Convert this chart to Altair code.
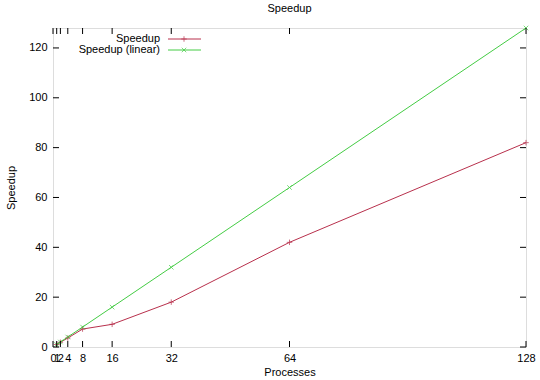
import altair as alt
import pandas as pd

processes = [1, 2, 4, 8, 16, 32, 64, 128]
speedup = [1, 1.9, 3.6, 7.2, 9.1, 18, 42, 82]
speedup_linear = [1, 2, 4, 8, 16, 32, 64, 128]
series = ["Speedup", "Speedup (linear)"]
colors = ["#b8304c", "#44cc44"]
x_ticks = [0, 1, 2, 4, 8, 16, 32, 64, 128]
y_ticks = [0, 20, 40, 60, 80, 100, 120]

W, H = 473, 319
FONT = "Liberation Sans"

df = pd.DataFrame({
    "p": processes * 2,
    "s": speedup + speedup_linear,
    "series": [series[0]] * len(processes) + [series[1]] * len(processes),
})

xs = alt.Scale(domain=[0, 128], nice=False, zero=False)
ys = alt.Scale(domain=[0, 128], nice=False, zero=False)
cs = alt.Scale(domain=series, range=colors)

plus = "M-1,0L1,0M0,-1L0,1"
cross = "M-1,-1L1,1M-1,1L1,-1"

base = alt.Chart(df)

lines = base.mark_line(strokeWidth=1).encode(
    x=alt.X("p:Q", scale=xs, axis=alt.Axis(values=x_ticks, ticks=False, domain=False, grid=False,
                                           labelOverlap=False, labelPadding=5, labelFont=FONT,
                                           labelFontSize=11, labelColor="black", title="Processes",
                                           titleFont=FONT, titleFontSize=11, titleFontWeight="normal",
                                           titlePadding=3, titleColor="black", labelFlush=False)),
    y=alt.Y("s:Q", scale=ys, axis=alt.Axis(values=y_ticks, ticks=False, domain=False, grid=False,
                                           labelPadding=6, labelFont=FONT, labelFontSize=11,
                                           labelColor="black", title="Speedup", titleFont=FONT,
                                           titleFontSize=11, titleFontWeight="normal",
                                           titlePadding=12, titleColor="black")),
    color=alt.Color("series:N", scale=cs, legend=None),
    detail="series:N",
)

pts_a = alt.Chart(df[df.series == series[0]]).mark_point(shape=plus, size=30, filled=False, strokeWidth=1).encode(
    x=alt.X("p:Q", scale=xs), y=alt.Y("s:Q", scale=ys), color=alt.Color("series:N", scale=cs, legend=None))
pts_b = alt.Chart(df[df.series == series[1]]).mark_point(shape=cross, size=20, filled=False, strokeWidth=1).encode(
    x=alt.X("p:Q", scale=xs), y=alt.Y("s:Q", scale=ys), color=alt.Color("series:N", scale=cs, legend=None))

# inward ticks (gnuplot style, mirrored)
xt = pd.DataFrame({"v": x_ticks})
yt = pd.DataFrame({"v": y_ticks})
tick_bottom = alt.Chart(xt).mark_rule(color="black", strokeWidth=1).encode(
    x=alt.X("v:Q", scale=xs), y=alt.value(H), y2=alt.value(H - 6))
tick_top = alt.Chart(xt).mark_rule(color="black", strokeWidth=1).encode(
    x=alt.X("v:Q", scale=xs), y=alt.value(0), y2=alt.value(6))
tick_left = alt.Chart(yt).mark_rule(color="black", strokeWidth=1).encode(
    y=alt.Y("v:Q", scale=ys), x=alt.value(0), x2=alt.value(6))
tick_right = alt.Chart(yt).mark_rule(color="black", strokeWidth=1).encode(
    y=alt.Y("v:Q", scale=ys), x=alt.value(W), x2=alt.value(W - 6))

# legend (gnuplot style: text then sample)
leg = []
for i, (name, col, shp, sz) in enumerate(zip(series, colors, [plus, cross], [30, 20])):
    yy = 11 + 11 * i
    d = pd.DataFrame({"name": [name]})
    leg.append(alt.Chart(d).mark_text(align="right", baseline="middle", font=FONT, fontSize=11, color="black").encode(
        text="name:N", x=alt.value(107), y=alt.value(yy)))
    leg.append(alt.Chart(d).mark_rule(color=col, strokeWidth=1).encode(
        x=alt.value(115), x2=alt.value(148), y=alt.value(yy)))
    leg.append(alt.Chart(d).mark_point(shape=shp, size=sz, filled=False, strokeWidth=1, color=col).encode(
        x=alt.value(131), y=alt.value(yy)))

chart = alt.layer(lines, pts_a, pts_b, tick_bottom, tick_top, tick_left, tick_right, *leg).properties(
    width=W, height=H,
    title=alt.TitleParams("Speedup", font=FONT, fontSize=11, fontWeight="normal", color="black", offset=10),
    autosize=alt.AutoSizeParams(type="none"),
    padding={"left": 53, "top": 28, "right": 14, "bottom": 33},
).configure_view(stroke="black", strokeWidth=1).configure(background="white")

chart.save("out.html", embed_options={"renderer": "svg", "actions": False})
